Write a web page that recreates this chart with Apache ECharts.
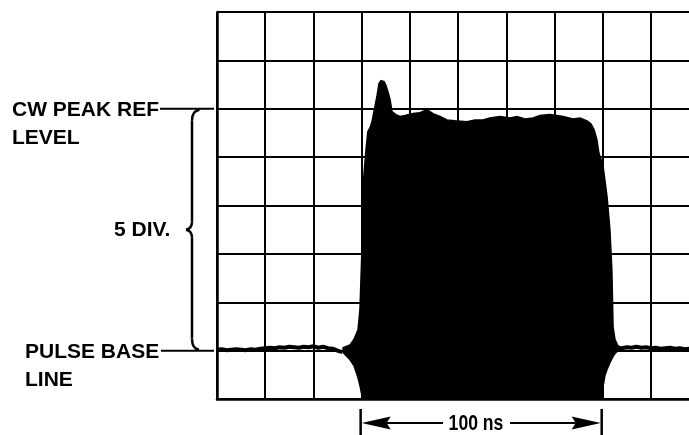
<!DOCTYPE html>
<html><head><meta charset="utf-8">
<script src="https://cdn.jsdelivr.net/npm/echarts@6/dist/echarts.min.js"></script>
<style>html,body{margin:0;padding:0;background:#fff}#c{width:689px;height:435px}</style>
</head><body><div id="c"></div>
<script>
// Oscilloscope: time in ns (20 ns / div), amplitude in divisions (0..8)
const baseTime  = [0,2,4,6,8,10,12,14,16,18,20,22,24,26,28,30,32,34,36,38,40,42,44,46,48,50,52, null,
                   166,168,170,172,174,176,178,180,182,184,186,188,190,192,194,196];
const baseLevel = [1.02,1.03,1.01,1.02,1.03,1.02,1.01,1.03,1.02,1.04,1.05,1.06,1.05,1.07,1.06,1.08,1.07,1.06,1.08,1.07,1.09,1.06,1.08,1.05,1.04,1.0,0.97, null,
                   1.03,1.05,1.07,1.06,1.08,1.06,1.07,1.05,1.06,1.04,1.05,1.06,1.04,1.05,1.03,1.04];

const pulseTime  = [52.3,55.2,56.8,58.5,59.3,60.2,60.8,61.8,62.6,63.5,64.3,65.1,66.4,67.2,68.0,69.3,70.1,70.9,71.8,72.6,74.2,75.9,78.0,81.3,84.2,87.1,89.6,92.5,95.4,98.7,103.7,107.0,110.3,113.2,117.4,121.5,124.4,127.8,131.1,134.0,138.1,141.0,143.5,147.7,150.6,153.5,155.1,156.4,157.6,158.4,159.3,159.9,160.9,161.8,163.0,163.8,164.3,165.1,166.3,168.0];
const pulseUpper = [1.06,1.12,1.23,1.43,1.85,3.19,4.53,5.15,5.53,5.61,5.73,5.94,6.27,6.52,6.58,6.56,6.48,6.35,6.19,5.94,5.88,5.84,5.86,5.90,5.92,5.98,5.90,5.84,5.77,5.75,5.73,5.77,5.77,5.81,5.84,5.81,5.84,5.79,5.81,5.86,5.88,5.86,5.84,5.79,5.81,5.75,5.69,5.57,5.36,5.09,4.95,4.91,4.53,4.18,3.50,2.67,1.49,1.23,1.10,1.06];
const pulseLower = [0.96,0.81,0.69,0.44,0.28,0.05,0,0,0,0,0,0,0,0,0,0,0,0,0,0,0,0,0,0,0,0,0,0,0,0,0,0,0,0,0,0,0,0,0,0,0,0,0,0,0,0,0,0,0,0,0,0.19,0.48,0.61,0.75,0.83,0.88,0.94,1.00,1.02];

const labelCW = ['CW PEAK REF', 'LEVEL'];
const labelBase = ['PULSE BASE', 'LINE'];
const labelDiv = '5 DIV.';
const labelSpan = '100 ns';
const cwLevel = 6, baseLine = 1, spanStart = 60, spanEnd = 160;
const xMin = 0, xMax = 195.8, xStep = 20, yMin = 0, yMax = 8, yStep = 1;

const chart = echarts.init(document.getElementById('c'), null, {renderer: 'canvas'});
const axisCommon = () => ({
  axisLabel: {show: false}, axisTick: {show: false},
  axisLine: {show: true, lineStyle: {color: '#000', width: 2.5}},
  splitLine: {show: true, lineStyle: {color: '#000', width: 2}}
});
const xAx = Object.assign({type: 'value', min: xMin, max: xMax, interval: xStep}, axisCommon());
xAx.splitLine.showMaxLine = false;
chart.setOption({
  animation: false,
  backgroundColor: '#fff',
  grid: {left: 217, top: 12, right: 0, bottom: 36},
  xAxis: xAx,
  yAxis: Object.assign({type: 'value', min: yMin, max: yMax, interval: yStep}, axisCommon()),
  series: [
    {type: 'line', data: baseTime.map((t, i) => t === null ? [null, null] : [t, baseLevel[i]]),
     symbol: 'none', lineStyle: {color: '#000', width: 4}, z: 3},
    {type: 'custom', clip: true, z: 4,
     data: pulseTime.map((t, i) => [t, pulseUpper[i], pulseLower[i]]),
     encode: {x: 0, y: [1, 2]},
     renderItem: function (params, api) {
       if (params.dataIndex !== 0) return null;
       const pts = [];
       for (let i = 0; i < pulseTime.length; i++) pts.push(api.coord([pulseTime[i], pulseUpper[i]]));
       for (let i = pulseTime.length - 1; i >= 0; i--) pts.push(api.coord([pulseTime[i], pulseLower[i]]));
       return {type: 'polygon', shape: {points: pts}, style: {fill: '#000', stroke: '#000', lineWidth: 1.5}};
     }}
  ]
});

const px = (t, v) => chart.convertToPixel({gridIndex: 0}, [t, v]);
const yCW = px(0, cwLevel)[1], yBase = px(0, baseLine)[1];
const xS = px(spanStart, 0)[0] - 1, xE = px(spanEnd, 0)[0] - 1;
const font = 'bold 21px "Liberation Sans", Arial, sans-serif';
const txt = (s, x, y, align, f) => ({type: 'text', x: x, y: y, style: {text: s, font: f || font, fill: '#000', align: align || 'left', verticalAlign: 'middle'}});
const ln = (x1, y1, x2, y2, w) => ({type: 'line', shape: {x1, y1, x2, y2}, style: {stroke: '#000', lineWidth: w || 2}});
const bz = (x1, y1, cx, cy, x2, y2) => ({type: 'bezierCurve', shape: {x1, y1, cpx1: cx, cpy1: cy, x2, y2}, style: {stroke: '#000', lineWidth: 2.5, fill: null}});
const yMid = (yCW + yBase) / 2;
const spanText = txt(labelSpan, 476, 424, 'center', 'bold 22px "Liberation Sans", sans-serif');
spanText.scaleX = 0.8;
chart.setOption({
  graphic: [
    txt(labelCW[0], 12, yCW + 1.5), txt(labelCW[1], 12, yCW + 29.5),
    ln(160, yCW, 214, yCW),
    txt(labelBase[0], 25, yBase + 1.5), txt(labelBase[1], 25, yBase + 29.5),
    ln(161, yBase, 214, yBase),
    txt(labelDiv, 114, yMid + 0.5),
    bz(199.5, yCW + 1, 192, yCW + 2, 192, yCW + 12), ln(192, yCW + 12, 192, yMid - 8, 2.5),
    bz(192, yMid - 8, 192, yMid - 1, 186, yMid), bz(186, yMid, 192, yMid + 1, 192, yMid + 8),
    ln(192, yMid + 8, 192, yBase - 12, 2.5), bz(192, yBase - 12, 192, yBase - 2, 199, yBase - 1),
    ln(xS, 409, xS, 435, 2.5), ln(xE, 409, xE, 435, 2.5),
    {type: 'polygon', shape: {points: [[xS + 1, 423], [xS + 30, 416.5], [xS + 26, 423], [xS + 30, 429.5]]}, style: {fill: '#000'}},
    {type: 'polygon', shape: {points: [[xE - 1, 423], [xE - 30, 416.5], [xE - 26, 423], [xE - 30, 429.5]]}, style: {fill: '#000'}},
    ln(xS + 26, 423, 443, 423, 2), ln(510, 423, xE - 26, 423, 2),
    spanText
  ]
});
</script></body></html>
